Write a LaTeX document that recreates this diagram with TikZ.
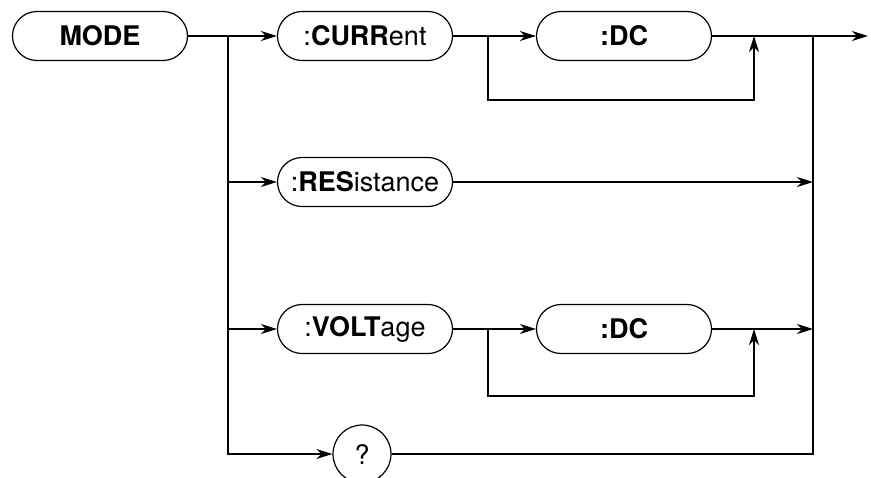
\documentclass[tikz,border=0pt]{standalone}
\usepackage{fontspec}
\setmainfont{TeX Gyre Heros}
\usetikzlibrary{shapes.geometric, arrows.meta}

\begin{document}
\begin{tikzpicture}[x=0.5pt, y=-0.5pt, font=\fontsize{13.5}{16}\selectfont]
  \tikzstyle{line}=[draw, line width=0.65pt]
  \tikzstyle{keyword} = [rectangle, rounded corners=12.25pt, minimum width=87.5pt, minimum height=24.5pt, inner sep=0pt, text centered, draw=black, line width=0.6pt]
  \tikzstyle{query} = [circle, minimum size=29pt, inner sep=0pt, draw=black, line width=0.6pt]
  \tikzstyle{arrow}=[draw, line width=0.65pt, -{Stealth[length=8pt, width=5pt, inset=2.5pt]}]

  \useasboundingbox (0,0) rectangle (871,477);

  \node (mode) [keyword] at (100,36) {\textbf{MODE}};
  \node (curr) [keyword] at (365,36) {:\textbf{CURR}ent};
  \node (currdc) [keyword] at (624,36) {\textbf{:DC}};
  \node (res) [keyword] at (365,182) {:\textbf{RES}istance};
  \node (volt) [keyword] at (365,329) {:\textbf{VOLT}age};
  \node (voltdc) [keyword] at (624,329) {\textbf{:DC}};
  \node (query) [query] at (362,454) {?};

  \coordinate (split) at (228,36);
  \coordinate (join) at (813,36);
  \coordinate (out) at (868,36);
  \coordinate (currskip) at (488,36);
  \coordinate (currback) at (754,36);
  \coordinate (voltskip) at (488,329);
  \coordinate (voltback) at (754,329);

  \draw [arrow] (mode) -- (curr);
  \draw [arrow] (split) |- (res);
  \draw [arrow] (split) |- (volt);
  \draw [arrow] (split) |- (query);
  \draw [arrow] (curr) -- (currdc);
  \draw [arrow] (currskip) -- ++(0,64) -| (currback);
  \draw [arrow] (currdc) -- (out);
  \draw [arrow] (res) -- (res -| join);
  \draw [arrow] (volt) -- (voltdc);
  \draw [arrow] (voltskip) -- ++(0,67) -| (voltback);
  \draw [arrow] (voltdc) -- (voltdc -| join);
  \draw [line] (query) -| (join);

\end{tikzpicture}
\end{document}
